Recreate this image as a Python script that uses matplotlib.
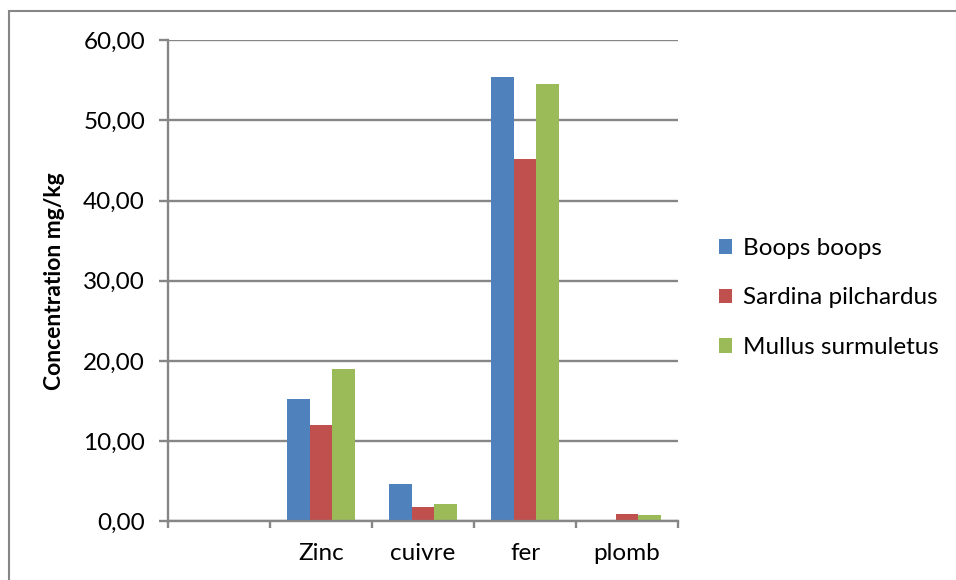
import matplotlib.pyplot as plt
import matplotlib.patches as mpatches
import numpy as np

# Métaux et concentrations (mg/kg) par espèce
categories = ['', 'Zinc', 'cuivre', 'fer', 'plomb']
species = ['Boops boops', 'Sardina pilchardus', 'Mullus surmuletus']
boops = [np.nan, 15.3, 4.6, 55.4, 0.0]
sardina = [np.nan, 12.0, 1.8, 45.2, 0.95]
mullus = [np.nan, 19.0, 2.1, 54.5, 0.8]
y_ticks = [0, 10, 20, 30, 40, 50, 60]

colors = ['#4F81BD', '#C0504D', '#9BBB59']
grey = '#868686'

plt.rcParams['font.family'] = ['Lato', 'DejaVu Sans']

fig = plt.figure(figsize=(9.56, 5.8), dpi=100)
ax = fig.add_axes([168 / 956, 1 - 521.3 / 580, 510 / 956, 481 / 580])

x = np.arange(len(categories))
w = 0.222
for i, (vals, col, name) in enumerate(zip([boops, sardina, mullus], colors, species)):
    ax.bar(x + (i - 1) * w, vals, width=w, color=col, label=name, zorder=3)

ax.set_xlim(-0.5, len(categories) - 0.5)
ax.set_ylim(0, 60)
ax.set_yticks(y_ticks)
ax.set_yticklabels([f'{v:.2f}'.replace('.', ',') for v in y_ticks], fontsize=17.5)
ax.set_xticks(x)
ax.set_xticklabels(categories, fontsize=17.5)
ax.set_xticks(np.arange(-0.5, len(categories)), minor=True)

ax.grid(axis='y', color=grey, linewidth=1.7, zorder=0)
for side in ['top', 'right']:
    ax.spines[side].set_visible(False)
for side in ['left', 'bottom']:
    ax.spines[side].set_color(grey)
    ax.spines[side].set_linewidth(1.7)
    ax.spines[side].set_zorder(4)

ax.tick_params(axis='y', which='major', length=6.5, width=1.7, color=grey, pad=10)
ax.tick_params(axis='x', which='major', length=0, pad=15.5)
ax.tick_params(axis='x', which='minor', length=5, width=1.7, color=grey)

ax.set_ylabel('Concentration mg/kg', fontsize=16.5, fontweight='bold', labelpad=13)

leg = ax.legend(loc='center left', bbox_to_anchor=(719 / 956, 1 - 298 / 580),
                bbox_transform=fig.transFigure, frameon=False, fontsize=17.5,
                handlelength=0.55, handleheight=0.55, handletextpad=0.42,
                labelspacing=1.17, borderpad=0, borderaxespad=0)

# cadre extérieur du graphique
fig.patches.append(mpatches.Rectangle((8.5 / 956, -0.05), 1.05, 1 - 11 / 580 + 0.05,
                                      transform=fig.transFigure, fill=False,
                                      edgecolor=grey, linewidth=1.5))

fig.savefig('out.png', dpi=100)
